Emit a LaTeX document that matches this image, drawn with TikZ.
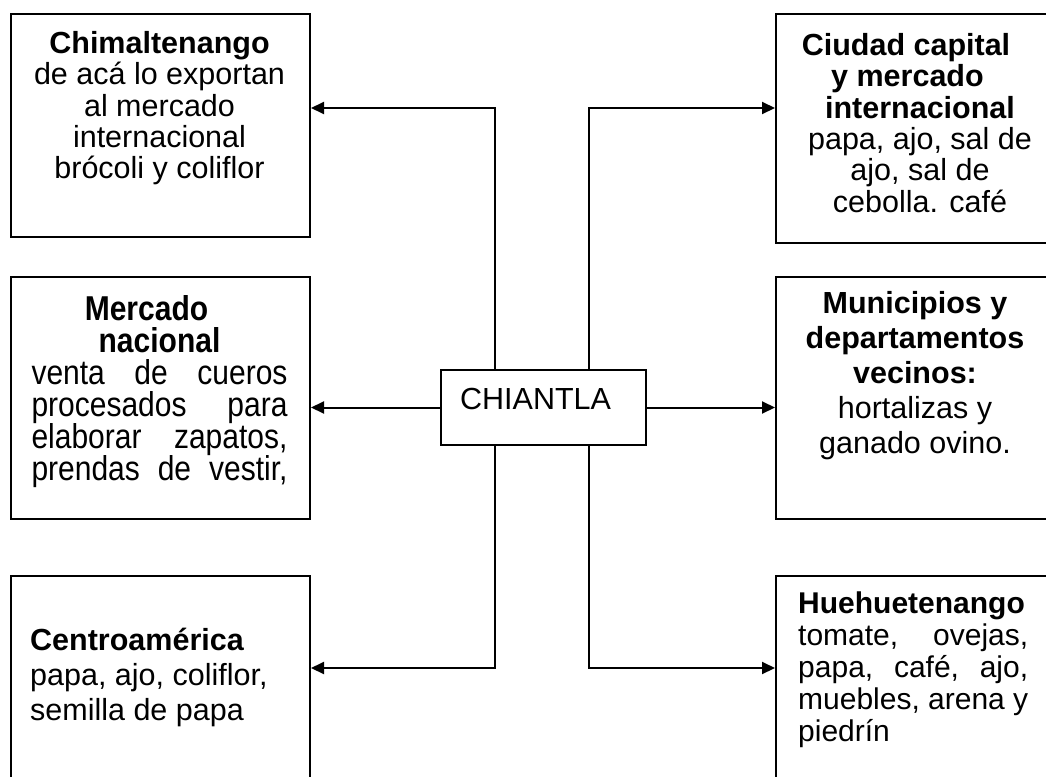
\documentclass[tikz,border=0pt]{standalone}
\usepackage{fontspec}
\setmainfont{Liberation Sans}
\usepackage{graphicx}
\usetikzlibrary{arrows.meta}
\newcommand\fl{\rule{0pt}{30pt}}
\newcommand\vsq[1]{\scalebox{1}[1.15]{#1}}
\begin{document}
\begin{tikzpicture}[x=1pt,y=-1pt,
  box/.style={draw, line width=2pt, anchor=north west, minimum width=299pt, inner sep=0pt},
  conn/.style={line width=2pt, -{Triangle[length=13pt,width=12pt]}},
  txt/.style={inner sep=0pt, anchor=north, align=center},
  txtl/.style={inner sep=0pt, anchor=north west, align=left},
  fA/.style={font={\fontsize{30.5}{31.4}\selectfont\lineskiplimit=-20pt}},
  fB/.style={font={\fontsize{30}{32}\selectfont\lineskiplimit=-20pt}},
  fC/.style={font={\fontsize{30.5}{35}\selectfont\lineskiplimit=-20pt}}
]
\useasboundingbox (0,0) rectangle (1046,776);
\clip (0,0) rectangle (1046,776);

% boxes
\node[box, minimum height=223pt] (tl) at (10,13) {};
\node[box, minimum height=242pt] (ml) at (10,276) {};
\node[box, minimum height=240pt] (bl) at (10,575) {};
\node[box, minimum height=229pt] (tr) at (775,13) {};
\node[box, minimum height=242pt] (mr) at (775,276) {};
\node[box, minimum height=240pt] (br) at (775,575) {};
\node[draw, line width=2pt, anchor=north west, minimum width=205pt, minimum height=75pt, inner sep=0pt] (ch) at (440,369) {};

% texts
\node[txt, fA] (tlT) at (159.5,23) {\fl\textbf{Chimaltenango}\\de acá lo exportan\\al mercado\\internacional\\brócoli y coliflor};
\node[txt, fB] (mlT) at (159.5,290) {\fl\vsq{\textbf{Mercado}}\rule{26pt}{0pt}\\\vsq{\textbf{nacional}}\\
  \vsq{\hbox to 256pt{venta\hfill de\hfill cueros}}\\
  \vsq{\hbox to 256pt{procesados\hfill para}}\\
  \vsq{\hbox to 256pt{elaborar\hfill zapatos,}}\\
  \vsq{\hbox to 256pt{prendas\hfill de\hfill vestir,}}};
\node[txtl, fC] (blT) at (30,620) {\fl\textbf{Centroamérica}\\papa, ajo, coliflor,\\semilla de papa};
\node[txt, fA] (trT) at (920,25) {\fl\textbf{Ciudad capital}\rule{28pt}{0pt}\\\textbf{y mercado}\rule{25pt}{0pt}\\\textbf{internacional}\\papa, ajo, sal de\\ajo, sal de\\cebolla. café};
\node[txt, fC] (mrT) at (915,283) {\fl\textbf{Municipios y}\\\textbf{departamentos}\\\textbf{vecinos:}\\hortalizas y\\ganado ovino.};
\node[txtl, fB] (brT) at (798,583) {\fl\textbf{Huehuetenango}\\
  \hbox to 230pt{tomate,\hfill ovejas,}\\
  \hbox to 230pt{papa,\hfill café,\hfill ajo,}\\
  \hbox to 230pt{muebles,\hfill arena\hfill y}\\
  piedrín};
\node[inner sep=0pt, anchor=base west, font={\fontsize{30.5}{32}\selectfont}] (chT) at (460,409) {CHIANTLA};

% connectors
\coordinate (vl) at (495,0);
\coordinate (vr) at (589,0);
\draw[conn] (ch.north -| vl) |- ([yshift=-95pt]tl.north east);
\draw[conn] (ch.north -| vr) |- ([yshift=-95pt]tr.north west);
\draw[conn] (ch.south -| vl) |- ([yshift=-93pt]bl.north east);
\draw[conn] (ch.south -| vr) |- ([yshift=-93pt]br.north west);
\draw[conn] (ch.west) -- (ch.west -| ml.east);
\draw[conn] (ch.east) -- (ch.east -| mr.west);
\end{tikzpicture}
\end{document}
